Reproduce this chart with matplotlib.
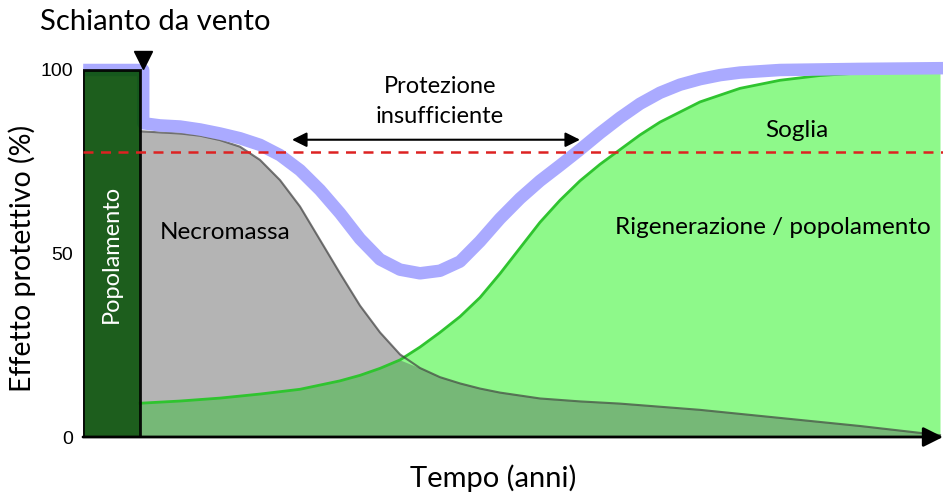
import matplotlib
matplotlib.use('Agg')
import matplotlib.pyplot as plt
import numpy as np

# time axis (arbitrary years, 0 = storm)
necro_x = [0, 2.5, 5, 7.5, 10, 12.5, 15, 17.5, 20, 22.5, 25, 27.5, 30, 32.5,
           35, 37.5, 40, 42.5, 45, 50, 55, 60, 70, 80, 90, 100]
necro_y = [83.3, 83, 82.7, 82.1, 80.9, 79.1, 75.5, 70, 62.8, 53.7, 44.6, 35.8,
           28.5, 22.5, 18.8, 16.3, 14.6, 13.2, 12.1, 10.5, 9.7, 9.1, 7.4, 5.2,
           3, 0.5]

regen_x = [0, 5, 10, 15, 20, 25, 27.5, 30, 32.5, 35, 37.5, 40, 42.5, 45, 47.5,
           50, 52.5, 55, 57.5, 60, 62.5, 65, 70, 75, 80, 85, 90, 100]
regen_y = [9.2, 9.8, 10.6, 11.7, 13, 15.3, 16.8, 18.7, 21, 24.5, 28.5, 32.8,
           38, 44.5, 51.5, 58.5, 64.5, 69.8, 74.3, 78.3, 82.3, 85.8, 91.3, 95,
           97.2, 98.5, 99.2, 99.6]

prot_x = [-7.1, 0.4, 0.4, 2.5, 5, 7.5, 10, 12.5, 15, 17.5, 20, 22.5, 25, 27.5,
          30, 32.5, 35, 37.5, 40, 42.5, 45, 47.5, 50, 52.5, 55, 57.5, 60, 62.5,
          65, 67.5, 70, 72.5, 75, 80, 90, 100.4]
prot_y = [100, 100, 85.5, 84.9, 84.6, 83.8, 82.7, 81.4, 79.6, 76.8, 72.7, 67.3,
          61, 54, 48.4, 45.6, 44.6, 45.3, 47.8, 53.3, 59.5, 65, 69.8, 74, 78.3,
          82.8, 87, 90.8, 93.8, 96, 97.5, 98.6, 99.3, 100, 100.3, 100.5]

soglia = 77.7
stand_x = [-7.1, 0]
stand_h = 100
gap_x = [19, 55]

fig = plt.figure(figsize=(9.43, 4.95), dpi=100)
ax = fig.add_axes([83/943, 58/495, 860/943, 387/495])
ax.set_xlim(-7.125, 100.375)
ax.set_ylim(0, 387/3.67)
for s in ax.spines.values():
    s.set_visible(False)
ax.set_xticks([])
ax.set_yticks([0, 50, 100])
ax.set_yticklabels(['0', '50', '100'], fontsize=14, family='Liberation Sans')
ax.tick_params(axis='y', length=0, pad=7)

# fills
xx = np.array(regen_x, dtype=float)
ng = np.interp(xx, necro_x, necro_y)
gy = np.array(regen_y)
ax.fill_between(necro_x, 0, necro_y, color='#b4b4b4', lw=0, zorder=1)
ax.fill_between(regen_x, 0, regen_y, color='#8ef98a', lw=0, zorder=1)
ax.fill_between(regen_x, 0, np.minimum(ng, gy), color='#76b877', lw=0, zorder=2)
ax.plot(regen_x, regen_y, color='#2fc42f', lw=2, zorder=3,
        solid_joinstyle='round')
ax.plot(necro_x, necro_y, color='#404040', lw=1.5, alpha=0.7, zorder=3,
        solid_joinstyle='round')

# protection curve (behind the stand bar)
ax.plot(prot_x, prot_y, color='#aaaaff', lw=9, solid_joinstyle='round',
        solid_capstyle='butt', zorder=4, clip_on=False)

# stand bar
ax.bar(stand_x[0], stand_h, width=stand_x[1] - stand_x[0], align='edge',
       color='#0b520b', edgecolor='black', lw=2, alpha=0.93, zorder=5)
ax.text(sum(stand_x) / 2, 50, 'Popolamento', color='white', rotation=90,
        ha='center', va='center', fontsize=17, family='Lato', zorder=6)

# threshold
ax.axhline(soglia, color='#dd2222', lw=1.8, ls=(0, (4, 3)), zorder=6,
           clip_on=False)

# insufficient protection span
ax.annotate('', xy=(gap_x[0], 81), xytext=(gap_x[1], 81),
            arrowprops=dict(arrowstyle='<|-|>', color='black', lw=1.5,
                            mutation_scale=22, shrinkA=0, shrinkB=0),
            zorder=7)
ax.text(37.5, 95.6, 'Protezione', ha='center', va='center',
        fontsize=17, family='Lato', zorder=7)
ax.text(37.5, 87.2, 'insufficiente', ha='center', va='center',
        fontsize=17, family='Lato', zorder=7)

# labels inside
ax.text(2.5, 55.6, 'Necromassa', ha='left', va='center', fontsize=17.5,
        family='Lato', zorder=7)
ax.text(82.1, 83.6, 'Soglia', ha='center', va='center', fontsize=17.5,
        family='Lato', zorder=7)
ax.text(79.1, 57, 'Rigenerazione / popolamento', ha='center', va='center',
        fontsize=17.5, family='Lato', zorder=7)

# storm marker
ax.plot([0.4], [102.8], marker='v', color='black', ms=13, clip_on=False,
        zorder=8)

# time axis arrow
ax.annotate('', xy=(100.375, 0), xytext=(-7.125, 0),
            arrowprops=dict(arrowstyle='-|>', color='black', lw=2,
                            mutation_scale=30, shrinkA=0, shrinkB=0),
            annotation_clip=False, zorder=8)

fig.text(40/943, 1 - 22/495, 'Schianto da vento', ha='left', va='center',
         fontsize=21, family='Lato')
fig.text(22/943, 1 - 258/495, 'Effetto protettivo (%)', rotation=90,
         ha='center', va='center', fontsize=20.5, family='Lato')
fig.text(493/943, 1 - 478/495, 'Tempo (anni)', ha='center', va='center',
         fontsize=21, family='Lato')

fig.savefig('out.png', dpi=100)
